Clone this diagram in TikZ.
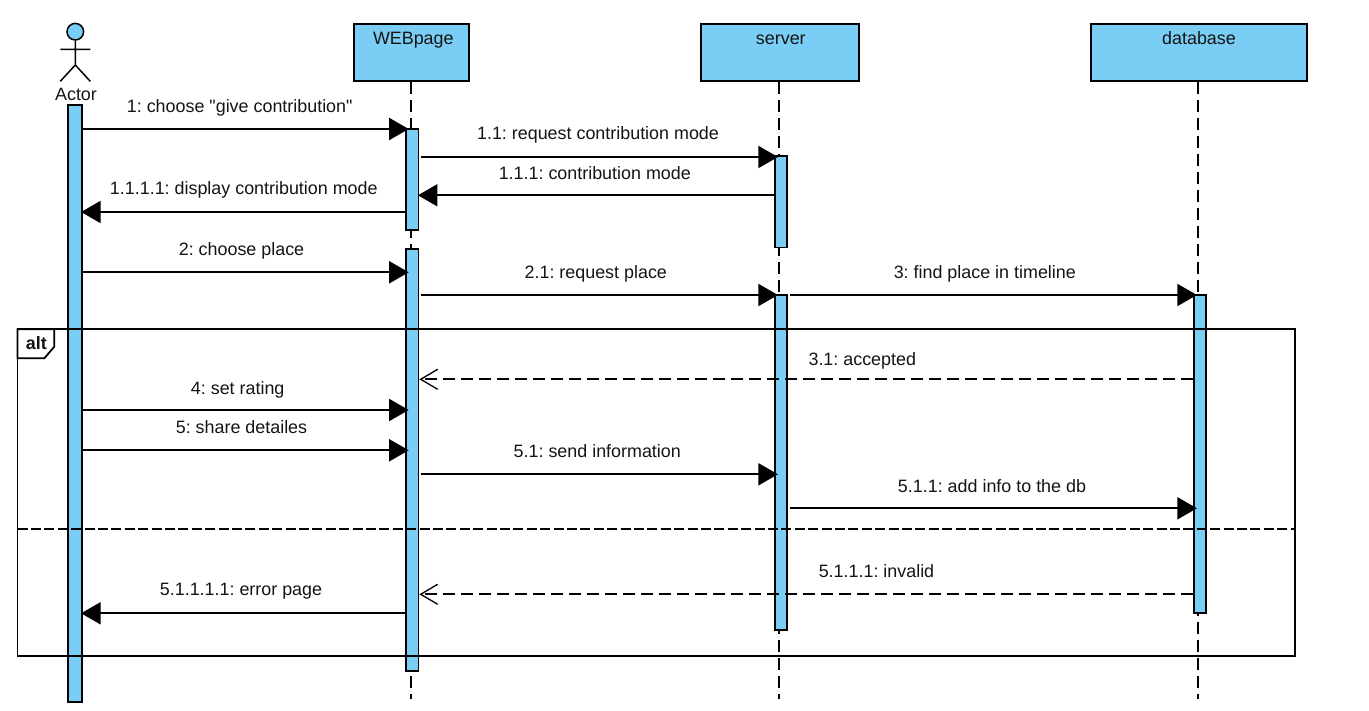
\documentclass[tikz,border=0pt]{standalone}
\usepackage{fontspec}
\newfontfamily\libsans{Liberation Sans}
\usetikzlibrary{arrows.meta}
\definecolor{umlblue}{RGB}{122,206,245}
\tikzset{
  x=1pt,y=-1pt,
  every node/.style={font=\libsans\frenchspacing\fontsize{17.9}{20}\selectfont,text=black!92},
  lifeline/.style={draw=black,line width=1.9pt,dash pattern=on 12pt off 6pt},
  head/.style={draw=black,fill=umlblue,line width=1.8pt,minimum height=57pt,inner sep=0pt,anchor=north},
  bar/.style={draw=black,fill=umlblue,line width=1.8pt,inner sep=0pt,anchor=north},
  sync/.style={draw=black,line width=1.8pt,shorten >=-1.5pt,-{Triangle[length=19.5pt,width=22pt,fill=black]}},
  syncr/.style={sync,shorten >=-3.5pt},
  reply/.style={draw=black,line width=1.8pt,dash pattern=on 12pt off 6pt,-{Straight Barb[length=17pt,width=20pt,line width=1.3pt]}},
  msglabel/.style={inner sep=0pt,anchor=base,yshift=-0.6pt},
  frameline/.style={draw=black,line width=1.8pt}
}
\begin{document}
\begin{tikzpicture}
\useasboundingbox (0,0) rectangle (1369,711);
% lifelines
\coordinate (wend) at (411.3,699);
\coordinate (send) at (779.3,699);
\coordinate (dend) at (1198.3,699);
\node[head,minimum width=114.7pt] (web) at (411.4,23.3) {};
\node[head,minimum width=157.7pt] (srv) at (779.9,23.3) {};
\node[head,minimum width=215.7pt] (db) at (1198.9,23.3) {};
\node[msglabel] (webt) at (413.3,44) {WEBpage};
\node[msglabel] (srvt) at (780.8,44) {server};
\node[msglabel] (dbt) at (1199,44) {database};
\draw[lifeline] (web.south -| wend) -- (wend);
\draw[lifeline] (srv.south -| send) -- (send);
\draw[lifeline] (db.south -| dend) -- (dend);
% actor
\node[circle,draw=black,fill=umlblue,line width=1.5pt,minimum size=16.6pt,inner sep=0pt] (ahead) at (75.3,31.7) {};
\coordinate (hip) at (75.3,65);
\coordinate (larm) at (60.3,49.3);
\coordinate (rarm) at (90.3,49.3);
\coordinate (lfoot) at (60.3,81.3);
\coordinate (rfoot) at (90.3,81.3);
\draw[line width=1.5pt] (ahead.south) -- (hip) (larm) -- (rarm) (lfoot) -- (hip) -- (rfoot);
\node[msglabel] (actor) at (76,100) {Actor};
% activation bars
\node[bar,minimum width=13.4pt,minimum height=597pt] (ab) at (75,104.3) {};
\node[bar,minimum width=12.4pt,minimum height=101pt] (w1) at (412.3,128.3) {};
\node[bar,minimum width=12.4pt,minimum height=422pt] (w2) at (412.3,248.3) {};
\node[bar,minimum width=11.4pt,minimum height=91.7pt] (s1) at (781,155) {};
\node[bar,minimum width=11.4pt,minimum height=335pt] (s2) at (781,294.3) {};
\node[bar,minimum width=11.4pt,minimum height=317.4pt] (d1) at (1200,294.3) {};
% alt frame
\coordinate (fa) at (17.5,329.3);
\coordinate (fb) at (1295.3,656.3);
\draw[frameline] (fa) rectangle (fb);
\coordinate (t1) at (17.5,358.3);
\coordinate (t2) at (44.3,358.3);
\coordinate (t3) at (54.3,346.7);
\coordinate (t4) at (54.3,329.3);
\draw[frameline,fill=white] (t4) -- (t3) -- (t2) -- (t1) -- (fa) -- cycle;
\node[msglabel,font=\libsans\fontsize{17.9}{20}\selectfont\bfseries] (alt) at (36.3,349) {alt};
\coordinate (dl) at (1294,529.3);
\draw[frameline,dash pattern=on 10pt off 3.4pt] (fa |- dl) -- (dl);
% messages
\coordinate (wo) at (420.7,0);
\coordinate (so) at (789.7,0);
\coordinate (ao) at (82.3,0);
\draw[syncr] (ao |- 0,129) -- (w1.west |- 0,129);
\node[msglabel] (m1) at (239.7,112.3) {1: choose "give contribution"};
\draw[syncr] (wo |- 0,157) -- (s1.west |- 0,157);
\node[msglabel] (m2) at (598,139) {1.1: request contribution mode};
\draw[sync] (s1.west |- 0,195.3) -- (w1.east |- 0,195.3);
\node[msglabel] (m3) at (594.8,179) {1.1.1: contribution mode};
\draw[sync] (w1.west |- 0,212) -- (ab.east |- 0,212);
\node[msglabel] (m4) at (243.8,194.3) {1.1.1.1: display contribution mode};
\draw[syncr] (ao |- 0,272.3) -- (w2.west |- 0,272.3);
\node[msglabel] (m5) at (241.5,255) {2: choose place};
\draw[syncr] (wo |- 0,295) -- (s2.west |- 0,295);
\node[msglabel] (m6) at (595.8,278.3) {2.1: request place};
\draw[syncr] (so |- 0,295) -- (d1.west |- 0,295);
\node[msglabel] (m7) at (984.8,278.3) {3: find place in timeline};
\draw[reply] (d1.west |- 0,379.3) -- (w2.east |- 0,379.3);
\node[msglabel] (m8) at (862.3,365) {3.1: accepted};
\draw[syncr] (ao |- 0,410) -- (w2.west |- 0,410);
\node[msglabel] (m9) at (237.7,394.3) {4: set rating};
\draw[syncr] (ao |- 0,450.3) -- (w2.west |- 0,450.3);
\node[msglabel] (m10) at (241.5,433.3) {5: share detailes};
\draw[syncr] (wo |- 0,474.3) -- (s2.west |- 0,474.3);
\node[msglabel] (m11) at (597.3,456.7) {5.1: send information};
\draw[syncr] (so |- 0,508.3) -- (d1.west |- 0,508.3);
\node[msglabel] (m12) at (992,492) {5.1.1: add info to the db};
\draw[reply] (d1.west |- 0,594.3) -- (w2.east |- 0,594.3);
\node[msglabel] (m13) at (876.5,577) {5.1.1.1: invalid};
\draw[sync] (w2.west |- 0,613.3) -- (ab.east |- 0,613.3);
\node[msglabel] (m14) at (241,595) {5.1.1.1.1: error page};
\end{tikzpicture}
\end{document}
